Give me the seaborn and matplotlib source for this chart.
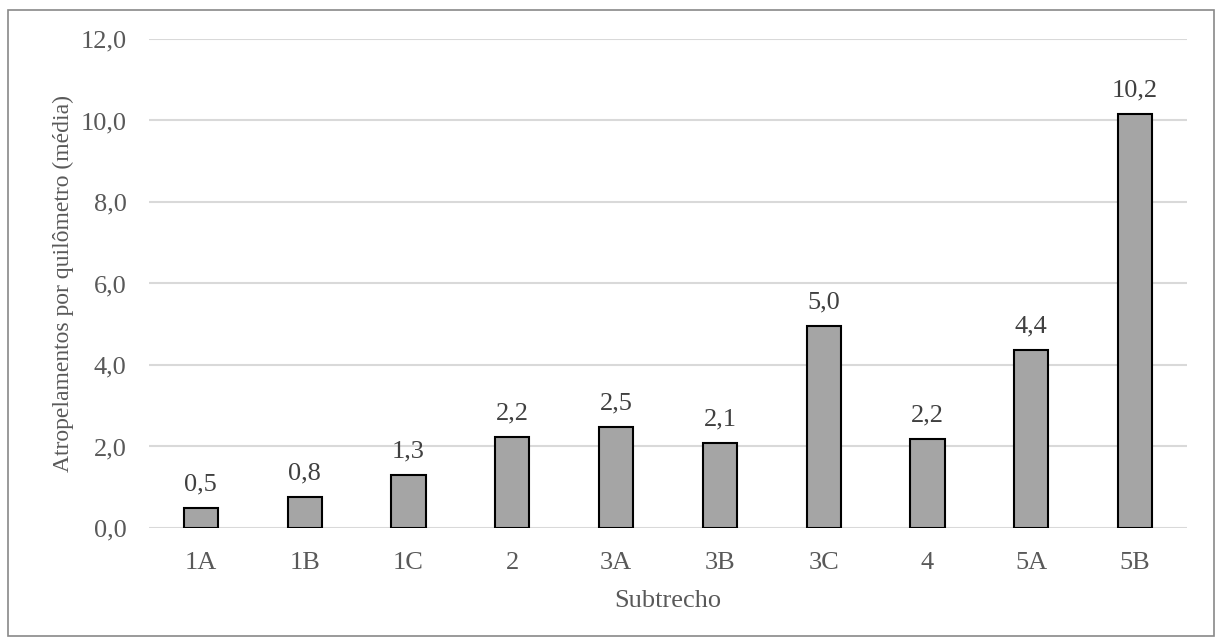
import matplotlib
matplotlib.use("Agg")
import matplotlib.pyplot as plt
import seaborn as sns
import pandas as pd
from matplotlib.patches import Rectangle

categories = ["1A", "1B", "1C", "2", "3A", "3B", "3C", "4", "5A", "5B"]
values = [0.48, 0.77, 1.29, 2.23, 2.48, 2.08, 4.96, 2.18, 4.36, 10.17]
yticks = [0, 2, 4, 6, 8, 10, 12]

sns.set_style("white")
plt.rcParams['font.family'] = ['Liberation Serif', 'DejaVu Serif']

df = pd.DataFrame({"Subtrecho": categories, "valor": values})

fig = plt.figure(figsize=(12.19, 6.42), dpi=100)
ax = fig.add_axes([0.1222, 0.1776, 0.8516, 0.7617])

sns.barplot(data=df, x="Subtrecho", y="valor", ax=ax, color="#A5A5A5",
            saturation=1, width=0.33, edgecolor="black", linewidth=1.5, zorder=3)

ax.set_ylim(0, 12)
ax.set_xlim(-0.5, len(categories) - 0.5)
ax.set_yticks(yticks)
ax.set_yticklabels([f"{t:.1f}".replace(".", ",") for t in yticks])
ax.yaxis.grid(True, color="#D9D9D9", linewidth=1.5, zorder=0)
ax.xaxis.grid(False)
for s in ax.spines.values():
    s.set_visible(False)
ax.tick_params(axis="both", length=0, labelsize=19, labelcolor="#595959")
ax.tick_params(axis="y", pad=16)
ax.tick_params(axis="x", pad=17)

for p, v in zip(ax.patches, values):
    ax.annotate(f"{v:.1f}".replace(".", ","),
                (p.get_x() + p.get_width() / 2, p.get_height()),
                xytext=(0, 9), textcoords="offset points",
                ha="center", va="bottom", fontsize=19, color="#404040")

ax.set_xlabel("Subtrecho", fontsize=19, color="#595959", labelpad=12)
ax.set_ylabel("Atropelamentos por quilômetro (média)", fontsize=17, color="#595959", labelpad=5)

fig.patches.append(Rectangle((8 / 1219, 1 - 636 / 642), (1214 - 8) / 1219, (636 - 10) / 642,
                             transform=fig.transFigure, fill=False, edgecolor="#898989",
                             linewidth=1.2))

fig.savefig("out.png", dpi=100)
